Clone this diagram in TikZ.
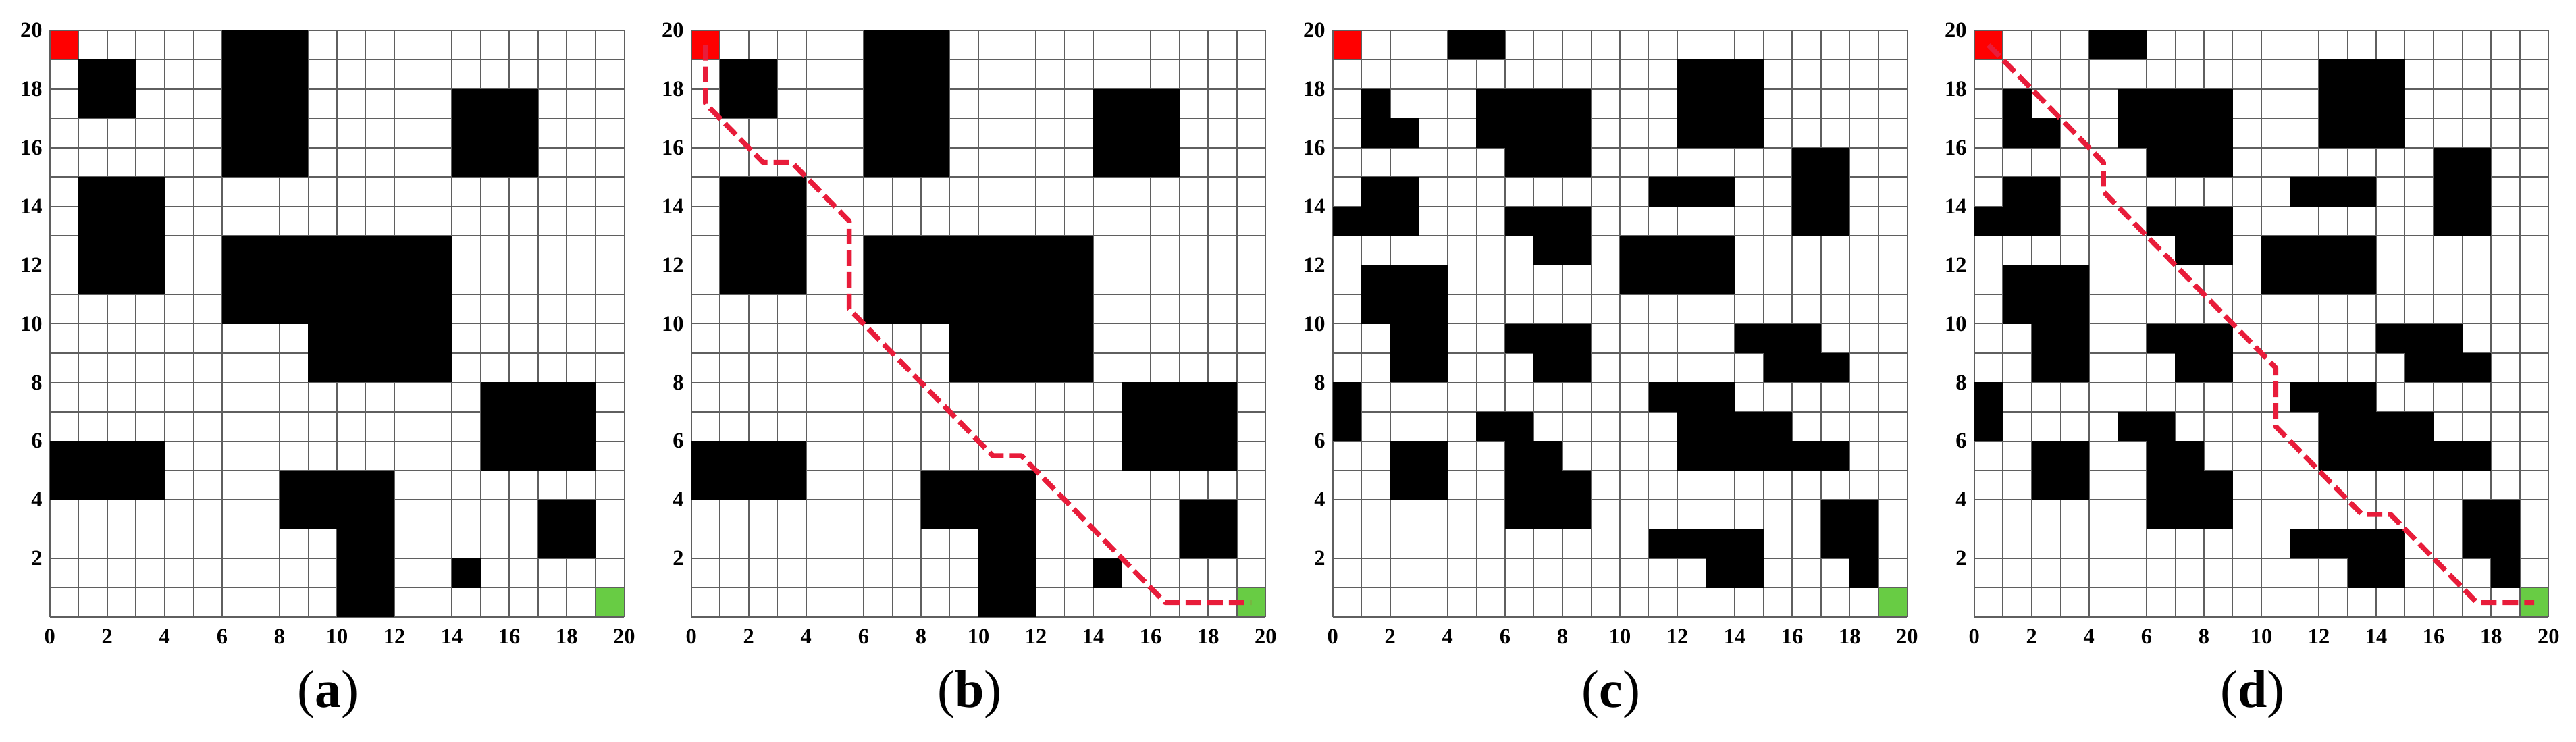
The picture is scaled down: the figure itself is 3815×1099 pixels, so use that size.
\documentclass[tikz,border=0pt]{standalone}
\usepackage{fontspec}
\setmainfont{Liberation Serif}
\definecolor{goalgreen}{RGB}{104,204,68}
\definecolor{pathred}{RGB}{232,28,58}
\definecolor{gridgray}{RGB}{95,95,95}
\tikzset{
  gridline/.style={draw=gridgray, line width=1.6pt},
  obst/.style={fill=black},
  startcell/.style={fill=red},
  goalcell/.style={fill=goalgreen},
  pathline/.style={draw=pathred, line width=7.5pt, dash pattern=on 23pt off 9pt, line join=round},
  axlab/.style={font=\fontsize{32.5}{39}\selectfont\bfseries, inner sep=0pt},
  caplab/.style={font=\fontsize{78}{90}\selectfont, inner sep=0pt, anchor=base},
}
\newcommand\mypanel[5]{%
  \begin{scope}[shift={(#2pt,-914pt)}, x=42.53pt, y=43.45pt]
    \fill[startcell] (0,19) rectangle (1,20);
    \fill[goalcell] (19,0) rectangle (20,1);
    \foreach \i in {0,...,20} {
      \draw[gridline] (\i,0) -- (\i,20);
      \draw[gridline] (0,\i) -- (20,\i);
    }
    \foreach \a/\b/\c/\d in #3 {
      \fill[obst] (\a,\b) rectangle (\c,\d);
    }
    \foreach \j in {2,4,...,20} {
      \node[axlab, anchor=east] (ylab-#1-\j) at ([xshift=-11pt]0,\j) {\j};
    }
    \foreach \i in {0,2,...,20} {
      \node[axlab] (xlab-#1-\i) at ([yshift=-29pt]\i,0) {\i};
    }
    \node[caplab] (cap-#1) at ([xshift=-13pt,yshift=-133pt]10,0) {(\textbf{#4})};
    #5
  \end{scope}%
}
\begin{document}
\begin{tikzpicture}[x=1pt,y=-1pt]
\useasboundingbox[fill=white] (0,0) rectangle (3815,1099);
\def\mapA{1/17/3/19, 6/15/9/20, 14/15/17/18, 1/11/4/15, 6/10/14/13, 9/8/14/10, 15/5/19/8, 0/4/4/6, 8/3/12/5, 10/0/12/3, 17/2/19/4, 14/1/15/2}
\def\mapC{4/19/6/20, 12/16/15/19, 1/17/2/18, 1/16/3/17, 5/16/9/18, 6/15/9/16, 16/13/18/16, 1/14/3/15, 0/13/3/14, 11/14/14/15, 6/13/9/14, 7/12/9/13, 10/11/14/13, 1/10/4/12, 2/8/4/10, 6/9/9/10, 7/8/9/9, 14/9/17/10, 15/8/18/9, 0/6/1/8, 11/7/14/8, 12/6/16/7, 12/5/18/6, 5/6/7/7, 6/5/8/6, 6/3/9/5, 2/4/4/6, 17/2/19/4, 18/1/19/2, 11/2/15/3, 13/1/15/2}
\mypanel{a}{73.7}{\mapA}{a}{}
\mypanel{b}{1023.7}{\mapA}{b}{%
  \draw[pathline] (0.5,19.5) -- (0.5,17.5) -- (2.5,15.5) -- (3.5,15.5) -- (5.5,13.5) -- (5.5,10.5) -- (10.5,5.5) -- (11.5,5.5) -- (16.5,0.5) -- (19.5,0.5);}
\mypanel{c}{1973.7}{\mapC}{c}{}
\mypanel{d}{2923.7}{\mapC}{d}{%
  \draw[pathline] (0.5,19.5) -- (4.5,15.5) -- (4.5,14.5) -- (10.5,8.5) -- (10.5,6.5) -- (13.5,3.5) -- (14.5,3.5) -- (17.5,0.5) -- (19.5,0.5);}
\end{tikzpicture}
\end{document}
